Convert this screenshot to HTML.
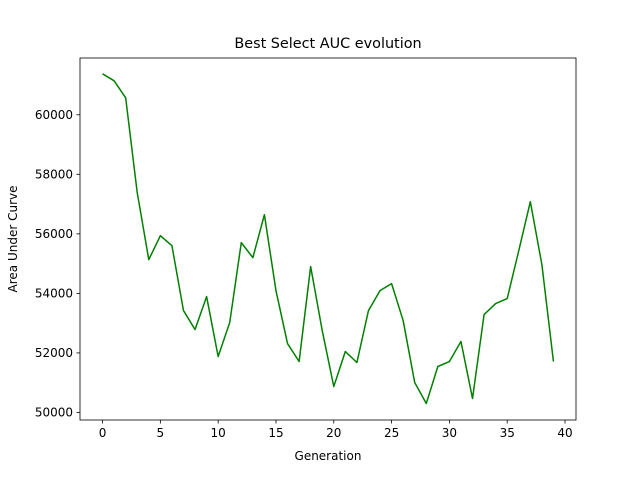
<!DOCTYPE html>
<html><head><meta charset="utf-8"><style>
body{margin:0;background:#fff;}
svg text{font-family:"DejaVu Sans","Liberation Sans",sans-serif;fill:#000;}
</style></head><body>
<svg id="chart" width="640" height="472" xmlns="http://www.w3.org/2000/svg">
<rect width="640" height="472" fill="#fff"/>
<g id="axes"></g>
<text x="328" y="48" text-anchor="middle" font-size="14.4">Best Select AUC evolution</text>
<text x="328" y="460" text-anchor="middle" font-size="12">Generation</text>
<text transform="translate(17,239) rotate(-90)" text-anchor="middle" font-size="12">Area Under Curve</text>
</svg>
<script>
const generations = [0,1,2,3,4,5,6,7,8,9,10,11,12,13,14,15,16,17,18,19,20,21,22,23,24,25,26,27,28,29,30,31,32,33,34,35,36,37,38,39];
const aucValues = [61376,61141,60570,57383,55134,55940,55604,53423,52785,53893,51879,53020,55705,55201,56644,54094,52315,51711,54899,52752,50872,52047,51678,53423,54094,54329,53087,51007,50302,51544,51711,52383,50470,53289,53658,53826,55436,57081,54966,51711];
const xTicks = [0,5,10,15,20,25,30,35,40];
const yTicks = [50000,52000,54000,56000,58000,60000];
const L=80,R=576,T=58,B=420;
const xMin=-1.95,xMax=40.95,yMin=49747,yMax=61907;
const sx=v=>L+(v-xMin)/(xMax-xMin)*(R-L);
const sy=v=>B-(v-yMin)/(yMax-yMin)*(B-T);
const NS="http://www.w3.org/2000/svg";
const g=document.getElementById('axes');
function mk(t,a){const e=document.createElementNS(NS,t);for(const k in a)e.setAttribute(k,a[k]);g.appendChild(e);return e;}
const frame=mk('rect',{x:L,y:T,width:R-L,height:B-T,fill:'none',stroke:'#000','stroke-width':0.8});


xTicks.forEach(v=>{const x=sx(v);
const tk=mk('line',{x1:x,x2:x,y1:B,y2:B+3.5,stroke:'#000','stroke-width':0.8});


const t=mk('text',{x:x,y:B+17,'text-anchor':'middle','font-size':12});t.textContent=v;

});
yTicks.forEach(v=>{const y=sy(v);
const tk=mk('line',{x1:L-3.5,x2:L,y1:y,y2:y,stroke:'#000','stroke-width':0.8});


const t=mk('text',{x:L-7,y:y+4,'text-anchor':'end','font-size':12});t.textContent=v;

});
const pts=generations.map((gx,i)=>sx(gx).toFixed(2)+','+sy(aucValues[i]).toFixed(2)).join(' ');
const line=mk('polyline',{points:pts,fill:'none',stroke:'#008000','stroke-width':1.5,'stroke-linejoin':'round'});


</script>
</body></html>
